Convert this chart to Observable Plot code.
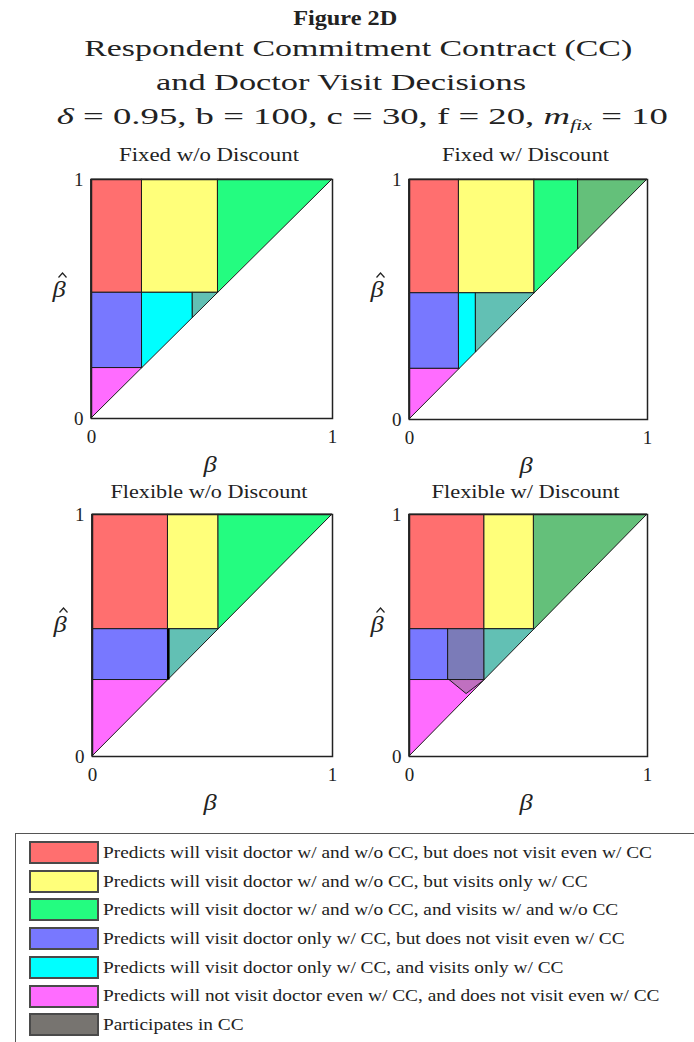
<!DOCTYPE html>
<html>
<head>
<meta charset="utf-8">
<script src="https://cdn.jsdelivr.net/npm/d3@7"></script>
<script src="https://cdn.jsdelivr.net/npm/@observablehq/plot@0.6"></script>
<style>
  html, body { margin: 0; padding: 0; background: #fff; }
  #root { position: relative; width: 694px; height: 1042px; overflow: hidden; font-family: "Liberation Serif", "Times New Roman", Times, serif; color: #222; }
  .t { position: absolute; white-space: nowrap; line-height: normal; }
  .panel { position: absolute; }
  .panel svg { overflow: visible; }
  #legend { position: absolute; left: 15px; top: 833px; width: 700px; height: 220px; border: 1px solid #555; box-sizing: border-box; }
  .sw { position: absolute; width: 66px; height: 19px; border: 2px solid #4a4a4a; }
  .hatmark { position: absolute; overflow: visible; }
</style>
</head>
<body>
<div id="root"></div>
<script>
// ---------------- data ----------------
const panelTitles = ["Fixed w/o Discount", "Fixed w/ Discount", "Flexible w/o Discount", "Flexible w/ Discount"];

const legendLabels = [
  "Predicts will visit doctor w/ and w/o CC, but does not visit even w/ CC",
  "Predicts will visit doctor w/ and w/o CC, but visits only w/ CC",
  "Predicts will visit doctor w/ and w/o CC, and visits w/ and w/o CC",
  "Predicts will visit doctor only w/ CC, but does not visit even w/ CC",
  "Predicts will visit doctor only w/ CC, and visits only w/ CC",
  "Predicts will not visit doctor even w/ CC, and does not visit even w/ CC",
  "Participates in CC"
];
const legendColors = ["#ff6f6f", "#ffff7a", "#24fc80", "#7878ff", "#00ffff", "#ff6cff", "#777470"];

// region kinds (base outcome, or outcome + participates in CC)
const kinds = ["red", "yellow", "green", "blue", "cyan", "magenta", "green+CC", "cyan+CC", "blue+CC", "magenta+CC"];
const kindColors = ["#ff6f6f", "#ffff7a", "#24fc80", "#7878ff", "#00ffff", "#ff6cff", "#64c07a", "#62c0b4", "#7b7bb8", "#c070c0"];

const xTicks = [0, 1];
const yTicks = [0, 1];

// each region: [kind, [[beta, betaHat_low, betaHat_high], ...]]
const fixedNoDiscount = [
  ["red",     [[0, 0.526, 1], [0.211, 0.526, 1]]],
  ["yellow",  [[0.211, 0.526, 1], [0.526, 0.526, 1]]],
  ["green",   [[0.526, 0.526, 1], [1, 1, 1]]],
  ["blue",    [[0, 0.211, 0.526], [0.211, 0.211, 0.526]]],
  ["cyan",    [[0.211, 0.211, 0.526], [0.421, 0.421, 0.526]]],
  ["cyan+CC", [[0.421, 0.421, 0.526], [0.526, 0.526, 0.526]]],
  ["magenta", [[0, 0, 0.211], [0.211, 0.211, 0.211]]]
];
const fixedDiscount = [
  ["red",      [[0, 0.526, 1], [0.209, 0.526, 1]]],
  ["yellow",   [[0.209, 0.526, 1], [0.526, 0.526, 1]]],
  ["green",    [[0.526, 0.526, 1], [0.71, 0.71, 1]]],
  ["green+CC", [[0.71, 0.71, 1], [1, 1, 1]]],
  ["blue",     [[0, 0.211, 0.526], [0.209, 0.211, 0.526]]],
  ["cyan",     [[0.209, 0.209, 0.526], [0.28, 0.28, 0.526]]],
  ["cyan+CC",  [[0.28, 0.28, 0.526], [0.526, 0.526, 0.526]]],
  ["magenta",  [[0, 0, 0.211], [0.211, 0.211, 0.211]]]
];
const flexibleNoDiscount = [
  ["red",     [[0, 0.526, 1], [0.316, 0.526, 1]]],
  ["yellow",  [[0.316, 0.526, 1], [0.526, 0.526, 1]]],
  ["green",   [[0.526, 0.526, 1], [1, 1, 1]]],
  ["blue",    [[0, 0.316, 0.526], [0.316, 0.316, 0.526]]],
  ["cyan+CC", [[0.316, 0.316, 0.526], [0.526, 0.526, 0.526]]],
  ["magenta", [[0, 0, 0.316], [0.316, 0.316, 0.316]]]
];
const flexibleDiscount = [
  ["red",        [[0, 0.526, 1], [0.316, 0.526, 1]]],
  ["yellow",     [[0.316, 0.526, 1], [0.524, 0.526, 1]]],
  ["green+CC",   [[0.524, 0.524, 1], [1, 1, 1]]],
  ["blue",       [[0, 0.316, 0.526], [0.164, 0.316, 0.526]]],
  ["blue+CC",    [[0.164, 0.316, 0.526], [0.316, 0.316, 0.526]]],
  ["cyan+CC",    [[0.316, 0.316, 0.526], [0.524, 0.524, 0.526]]],
  ["magenta",    [[0, 0, 0.316], [0.316, 0.316, 0.316]]],
  ["magenta+CC", [[0.168, 0.316, 0.316], [0.24, 0.258, 0.316], [0.312, 0.312, 0.316]]]
];
const panelRegions = [fixedNoDiscount, fixedDiscount, flexibleNoDiscount, flexibleDiscount];
// heavier boundary segments: [panel, beta, betaHat_from, betaHat_to]
const heavyEdges = [[2, 0.316, 0.316, 0.526]];

// ---------------- layout ----------------
const SERIF = '"Liberation Serif", "Times New Roman", Times, serif';
const frames = [
  {left: 91, top: 179, w: 241, h: 239},
  {left: 409, top: 179, w: 238, h: 240},
  {left: 92, top: 514, w: 240, h: 242},
  {left: 409, top: 514, w: 238, h: 242}
];
const M = {l: 40, r: 10, t: 10, b: 40};
const root = document.getElementById("root");

function addText(html, opts) {
  const el = document.createElement("div");
  el.className = "t";
  el.innerHTML = html;
  el.style.fontSize = opts.fs + "px";
  el.style.fontFamily = SERIF;
  if (opts.weight) el.style.fontWeight = opts.weight;
  if (opts.italic) el.style.fontStyle = "italic";
  root.appendChild(el);
  const w = el.getBoundingClientRect().width;
  const s = opts.width ? opts.width / w : (opts.scale || 1);
  const asc = 0.891 * opts.fs;
  el.style.top = (opts.baseline - asc) + "px";
  if (opts.cx !== undefined) {
    el.style.left = (opts.cx - w / 2) + "px";
    el.style.transformOrigin = "50% 50%";
  } else {
    el.style.left = opts.x + "px";
    el.style.transformOrigin = "0 50%";
  }
  el.style.transform = `scaleX(${s})`;
  return {el, s};
}

// titles
addText("Figure 2D", {fs: 22, weight: "bold", cx: 345, baseline: 25, width: 104});
addText("Respondent Commitment Contract (CC)", {fs: 23, cx: 358, baseline: 56, width: 548});
addText("and Doctor Visit Decisions", {fs: 23, cx: 341, baseline: 90, width: 370});
addText("<i>δ</i> = 0.95, b = 100, c = 30, f = 20, <i>m<sub style='font-size:60%'>fix</sub></i> = 10", {fs: 23, cx: 362, baseline: 124, width: 611});

// panels
panelRegions.forEach((regions, i) => {
  const f = frames[i];
  const rows = [];
  regions.forEach(([kind, pts], j) => {
    pts.forEach(([x, y1, y2]) => rows.push({id: j, kind, x, y1, y2}));
  });
  const edges = heavyEdges.filter(e => e[0] === i).map(([, x, y1, y2]) => ({x, y1, y2}));
  const chart = Plot.plot({
    width: f.w + M.l + M.r,
    height: f.h + M.t + M.b,
    marginLeft: M.l, marginRight: M.r, marginTop: M.t, marginBottom: M.b,
    x: {domain: [0, 1], ticks: xTicks, tickSize: 0, tickPadding: 11, label: null, tickFormat: d => String(d)},
    y: {domain: [0, 1], ticks: yTicks, tickSize: 0, tickPadding: 8, label: null, tickFormat: d => String(d)},
    color: {domain: kinds, range: kindColors},
    style: {fontFamily: SERIF, fontSize: "19px", color: "#222", background: "transparent"},
    marks: [
      Plot.areaY(rows, {x: "x", y1: "y1", y2: "y2", z: "id", fill: "kind", stroke: "#1a1a1a", strokeWidth: 1}),
      Plot.ruleX(edges, {x: "x", y1: "y1", y2: "y2", stroke: "#000", strokeWidth: 2.5}),
      Plot.frame({stroke: "#222", strokeWidth: 1.5})
    ]
  });
  const wrap = document.createElement("div");
  wrap.className = "panel";
  wrap.style.left = (f.left - M.l) + "px";
  wrap.style.top = (f.top - M.t) + "px";
  wrap.appendChild(chart);
  root.appendChild(wrap);

  const cx = f.left + f.w / 2;
  const titleBase = i < 2 ? 161 : 498;
  const tw = [180, 167, 197, 188][i];
  addText(panelTitles[i], {fs: 18, cx: cx - 3, baseline: titleBase, width: tw});

  // y label: beta-hat (hat drawn as a small chevron above the glyph)
  addText("β", {fs: 24, italic: true, cx: f.left - 32, baseline: f.top + 118, scale: 1.1});
  const hat = document.createElementNS("http://www.w3.org/2000/svg", "svg");
  hat.setAttribute("class", "hatmark");
  hat.setAttribute("width", "9");
  hat.setAttribute("height", "6");
  hat.style.left = (f.left - 32 - 1) + "px";
  hat.style.top = (f.top + 118 - 25) + "px";
  hat.innerHTML = '<polyline points="0.5,5.5 4.5,1 8.5,5.5" fill="none" stroke="#222" stroke-width="1.2"/>';
  root.appendChild(hat);

  addText("β", {fs: 24, italic: true, cx: cx - 2, baseline: f.top + f.h + 54, scale: 1.1});
});

// legend
const legend = document.createElement("div");
legend.id = "legend";
root.appendChild(legend);
let legendScale = null;
legendLabels.forEach((lab, i) => {
  const yc = 851.5 + i * 28.7;
  const sw = document.createElement("div");
  sw.className = "sw";
  sw.style.left = (28 - 15) + "px";
  sw.style.top = (yc - 11.5 - 833) + "px";
  sw.style.background = legendColors[i];
  legend.appendChild(sw);
  const r = addText(lab, {fs: 17, x: 103, baseline: yc + 6.5, width: i === 0 ? 549 : undefined, scale: legendScale});
  if (i === 0) legendScale = r.s;
});
</script>
</body>
</html>
